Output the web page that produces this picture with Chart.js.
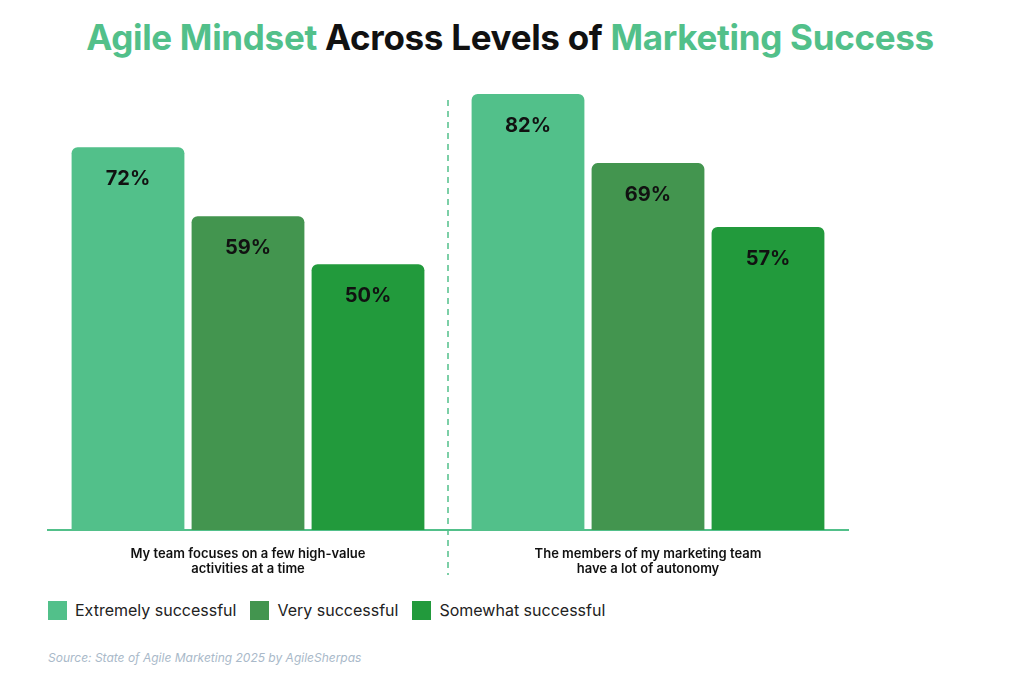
<!DOCTYPE html>
<html><head><meta charset="utf-8">
<script src="https://cdn.jsdelivr.net/npm/chart.js@4"></script>
<style>
body{margin:0;width:1020px;height:690px;background:#fff;font-family:Inter,sans-serif;position:relative;overflow:hidden}
h1{position:absolute;top:16px;left:0;width:1020px;text-align:center;margin:0;font-size:35px;font-weight:700;color:#111;letter-spacing:-0.3px}
h1 span{color:#52c08a}
#wrap{position:absolute;left:0;top:80px;width:1020px;height:500px}
#legend{position:absolute;left:48px;top:600px;display:flex;gap:14px;font-size:16px;color:#222}
#legend div{display:flex;align-items:center;gap:8px}
#legend i{display:inline-block;width:19px;height:19px}
#src{position:absolute;left:48px;top:650px;font-size:12px;font-style:italic;color:#a9b9c9}
</style></head><body>
<h1><span>Agile Mindset</span> Across Levels of <span>Marketing Success</span></h1>
<div id="wrap"><canvas id="c"></canvas></div>
<div id="legend"></div>
<div id="src">Source: State of Agile Marketing 2025 by AgileSherpas</div>
<script>
// Dados
const categorias = [
  ['My team focuses on a few high-value', 'activities at a time'],
  ['The members of my marketing team', 'have a lot of autonomy'],
];
const series = ['Extremely successful', 'Very successful', 'Somewhat successful'];
const cores = ['#52c08a', '#43954f', '#229a3c'];
const extremely = [72, 82];
const very = [59, 69];
const somewhat = [50, 57];
const valores = [extremely, very, somewhat];

// legenda em HTML
document.getElementById('legend').innerHTML = series
  .map((s, i) => `<div><i style="background:${cores[i]}"></i>${s}</div>`).join('');

// rótulos dentro das barras + linha tracejada
const extras = {
  id: 'extras',
  afterDatasetsDraw(chart) {
    const ctx = chart.ctx;
    ctx.save();
    ctx.font = "700 20px Inter, sans-serif";
    ctx.fillStyle = '#111';
    ctx.textAlign = 'center';
    ctx.textBaseline = 'middle';
    chart.data.datasets.forEach((ds, i) => {
      chart.getDatasetMeta(i).data.forEach((bar, j) => {
        ctx.fillText(ds.data[j] + '%', bar.x, bar.y + 32);
      });
    });
    const x = (chart.chartArea.left + chart.chartArea.right) / 2;
    ctx.strokeStyle = '#52c08a';
    ctx.lineWidth = 1.5;
    ctx.setLineDash([6, 5]);
    ctx.beginPath();
    ctx.moveTo(x, 20);
    ctx.lineTo(x, 495);
    ctx.stroke();
    ctx.restore();
  },
};

new Chart(document.getElementById('c'), {
  type: 'bar',
  data: {
    labels: categorias,
    datasets: series.map((s, i) => ({
      label: s,
      data: valores[i],
      backgroundColor: cores[i],
      borderRadius: { topLeft: 6, topRight: 6 },
      borderSkipped: 'bottom',
      categoryPercentage: 0.9,
      barPercentage: 0.94,
    })),
  },
  options: {
    responsive: true,
    maintainAspectRatio: false,
    animation: false,
    layout: { padding: { top: 14, left: 48, right: 172, bottom: 0 } },
    plugins: { legend: { display: false }, tooltip: { enabled: false } },
    scales: {
      y: { display: false, min: 0, max: 82 },
      x: {
        grid: { display: false },
        border: { color: '#52c08a', width: 2 },
        ticks: { color: '#111', font: { size: 13, weight: '600', family: 'Inter' }, padding: 8 },
        afterFit(s) { s.height = 50; },
      },
    },
  },
  plugins: [extras],
});
</script>
</body></html>
